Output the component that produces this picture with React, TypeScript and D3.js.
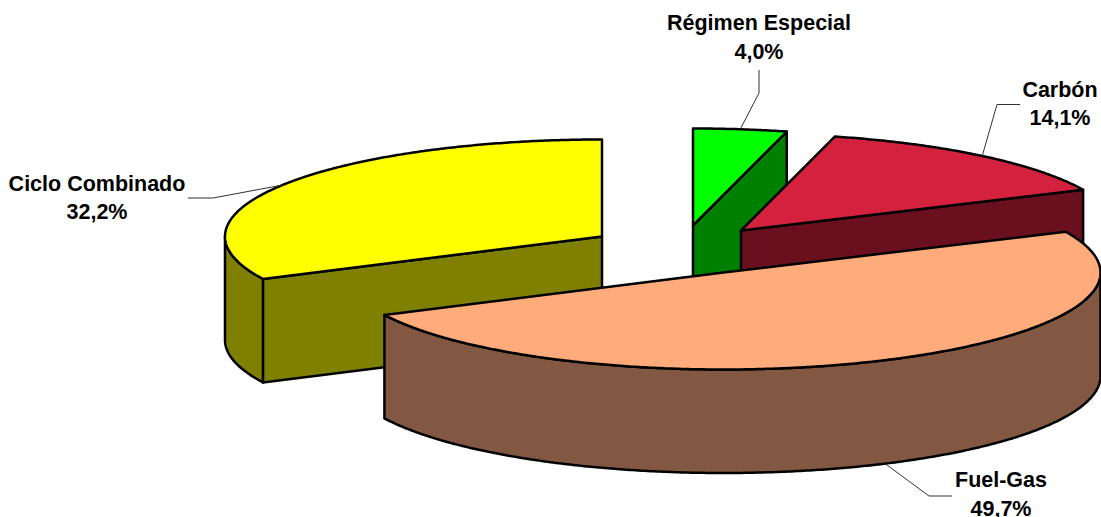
import React from "react";
import * as d3 from "d3";

const categories = ["Régimen Especial", "Carbón", "Fuel-Gas", "Ciclo Combinado"];
const shares = [4.0, 14.1, 49.7, 32.2];
const shareLabels = ["4,0%", "14,1%", "49,7%", "32,2%"];
const topColors = ["#00FF00", "#D4213D", "#FFAB7C", "#FFFF00"];
const wallColors = ["#008000", "#6A0F1E", "#825842", "#808000"];
const sliceCentres: [number, number][] = [[693, 225.5], [741, 230.5], [723.5, 272.5], [602, 236.5]];
const labelCentres: [number, number][] = [[759, 30], [1060, 96.5], [1001, 487], [97, 190.5]];
const leaderElbows: [number, number][][] = [
  [[759, 70], [759, 93]],
  [[1020, 104.5], [997, 104.5]],
  [[952, 496], [929, 496]],
  [[188, 198], [213, 198]],
];
const drawOrder = [3, 0, 1, 2];

const RX = 377;
const RY = 97;
const DEPTH = 103.5;
const STROKE = 2.5;
const TAU = 2 * Math.PI;

const arcs = d3.pie<number>().sort(null).startAngle(0).endAngle(TAU)(shares);
const line = d3.line();

function rim(c: [number, number], a: number, dy = 0): [number, number] {
  return [c[0] + RX * Math.sin(a), c[1] - RY * Math.cos(a) + dy];
}
function sweep(c: [number, number], a0: number, a1: number, dy = 0): [number, number][] {
  const n = Math.max(2, Math.ceil(Math.abs(a1 - a0) * 120));
  return d3.range(n + 1).map((i) => rim(c, a0 + ((a1 - a0) * i) / n, dy));
}

function Slice({ i }: { i: number }) {
  const { startAngle: a0, endAngle: a1 } = arcs[i];
  const c = sliceCentres[i];
  const base: [number, number] = [c[0], c[1] + DEPTH];
  const walls: string[] = [];
  if (a1 > 0 && a1 < Math.PI) {
    const t = rim(c, a1);
    walls.push(line([c, t, [t[0], t[1] + DEPTH], base])! + "Z");
  }
  if (a0 > Math.PI && a0 < TAU) {
    const t = rim(c, a0);
    walls.push(line([c, t, [t[0], t[1] + DEPTH], base])! + "Z");
  }
  const r0 = Math.max(a0, Math.PI / 2);
  const r1 = Math.min(a1, (3 * Math.PI) / 2);
  if (r1 > r0) {
    walls.push(line([...sweep(c, r0, r1), ...sweep(c, r1, r0, DEPTH)])! + "Z");
  }
  const top = line([c, ...sweep(c, a0, a1)])! + "Z";
  return (
    <g stroke="#000" strokeWidth={STROKE} strokeLinejoin="round">
      {walls.map((d, k) => (
        <path key={k} d={d} fill={wallColors[i]} />
      ))}
      <path d={top} fill={topColors[i]} />
    </g>
  );
}

function Leader({ i }: { i: number }) {
  const mid = (arcs[i].startAngle + arcs[i].endAngle) / 2;
  const front = Math.cos(mid) < 0;
  const tip = rim(sliceCentres[i], mid, front ? DEPTH : 0);
  return (
    <path d={line([...leaderElbows[i], tip])!} fill="none" stroke="#333" strokeWidth={1} />
  );
}

export default function App() {
  return (
    <svg
      width={1101}
      height={517}
      viewBox="0 0 1101 517"
      style={{ position: "absolute", left: 0, top: 0, display: "block", background: "#fff" }}
    >
      {drawOrder.map((i) => (
        <Slice key={i} i={i} />
      ))}
      {drawOrder.map((i) => (
        <Leader key={i} i={i} />
      ))}
      <g fontFamily="'Liberation Sans', Arial, sans-serif" fontWeight="bold" fontSize={21.5} textAnchor="middle" fill="#000">
        {categories.map((name, i) => (
          <text key={name} x={labelCentres[i][0]} y={labelCentres[i][1]}>
            <tspan x={labelCentres[i][0]}>{name}</tspan>
            <tspan x={labelCentres[i][0]} dy={28.5}>{shareLabels[i]}</tspan>
          </text>
        ))}
      </g>
    </svg>
  );
}
